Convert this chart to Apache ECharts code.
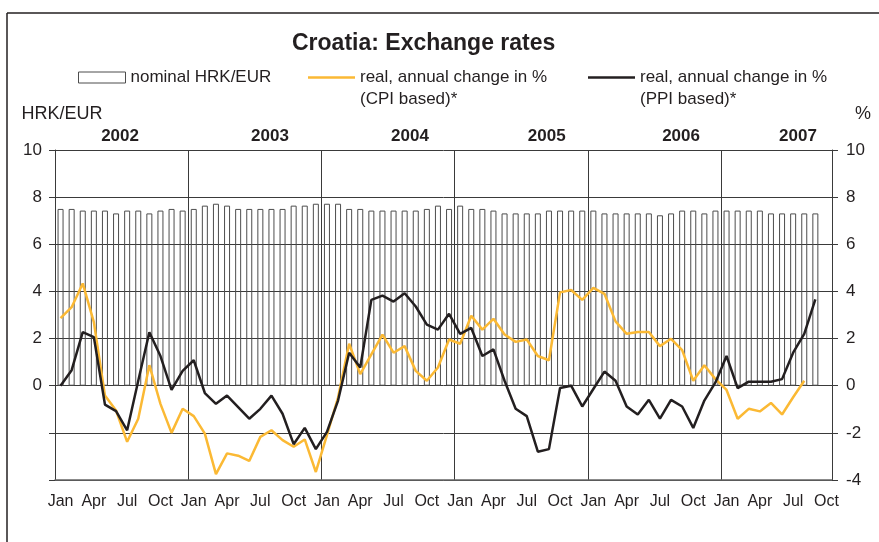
<!DOCTYPE html>
<html>
<head>
<meta charset="utf-8">
<script src="https://cdn.jsdelivr.net/npm/echarts@6/dist/echarts.min.js"></script>
<style>
html,body{margin:0;padding:0;background:#fff;}
#chart{width:879px;height:542px;}
</style>
</head>
<body>
<div id="chart"></div>
<script>
// ---- data ----
const monthNames = ['Jan','Feb','Mar','Apr','May','Jun','Jul','Aug','Sep','Oct','Nov','Dec'];
const years = ['2002','2003','2004','2005','2006','2007'];
// Jan 2002 .. Oct 2007 (70 months)
const categories = [];
for (let y = 0; y < 6; y++) for (let m = 0; m < 12; m++) if (!(y === 5 && m > 9)) categories.push(monthNames[m]);

const nominalHRK = [
  7.50,7.50,7.43,7.43,7.43,7.31,7.43,7.43,7.31,7.43,7.50,7.43,
  7.50,7.64,7.72,7.64,7.50,7.50,7.50,7.50,7.50,7.64,7.64,7.72,
  7.72,7.72,7.50,7.50,7.43,7.43,7.43,7.43,7.43,7.50,7.64,7.50,
  7.64,7.50,7.50,7.43,7.31,7.31,7.31,7.31,7.43,7.43,7.43,7.43,
  7.43,7.31,7.31,7.31,7.31,7.31,7.23,7.31,7.43,7.43,7.31,7.43,
  7.43,7.43,7.43,7.43,7.31,7.31,7.31,7.31,7.31
];
const cpiReal = [
  2.87,3.33,4.34,2.70,-0.42,-1.05,-2.38,-1.40,0.87,-0.77,-2.00,-0.98,
  -1.29,-2.03,-3.75,-2.87,-2.97,-3.19,-2.17,-1.89,-2.31,-2.59,-2.28,-3.66,
  -2.10,-0.50,1.78,0.49,1.33,2.17,1.40,1.68,0.63,0.21,0.77,1.96,
  1.78,2.97,2.38,2.84,2.17,1.86,1.96,1.26,1.08,3.96,4.06,3.64,
  4.15,3.90,2.73,2.20,2.28,2.28,1.68,1.99,1.51,0.21,0.87,0.28,
  -0.18,-1.40,-0.98,-1.09,-0.73,-1.22,-0.49,0.21
];
const ppiReal = [
  0.00,0.66,2.27,2.06,-0.80,-1.08,-1.89,0.21,2.27,1.26,-0.18,0.63,
  1.08,-0.31,-0.77,-0.42,-0.91,-1.40,-0.98,-0.42,-1.19,-2.48,-1.79,-2.69,
  -1.96,-0.63,1.40,0.77,3.64,3.82,3.57,3.92,3.36,2.59,2.38,3.05,
  2.20,2.45,1.26,1.54,0.21,-0.98,-1.29,-2.80,-2.69,-0.10,0.00,-0.88,
  -0.14,0.60,0.21,-0.88,-1.22,-0.60,-1.40,-0.60,-0.88,-1.79,-0.63,0.14,
  1.26,-0.10,0.17,0.17,0.17,0.28,1.40,2.20,3.66
];
const nameNominal = 'nominal HRK/EUR';
const nameCPI = 'real, annual change in %\n(CPI based)*';
const namePPI = 'real, annual change in %\n(PPI based)*';

// year label anchor positions along the month scale
const yearPos = [5.86, 19.37, 31.98, 44.3, 56.4, 66.94];

const FONT = 'Liberation Sans, Arial, Helvetica, sans-serif';
const TXT = '#231f20';
const GRID = '#3a3a3a';
const CPI_COLOR = '#fbb934';
const PPI_COLOR = '#231f20';

// prepend an empty line so the first text line sits level with the legend icon
const twoLineFormatter = function (name) { return '\n' + name; };

const chart = echarts.init(document.getElementById('chart'));
chart.setOption({
  animation: false,
  backgroundColor: '#fff',
  textStyle: { fontFamily: FONT, color: TXT },
  title: {
    text: 'Croatia: Exchange rates',
    left: 292, top: 32, padding: 0,
    textStyle: { fontFamily: FONT, fontSize: 23, fontWeight: 'bold', color: TXT }
  },
  graphic: [
    { type: 'line', shape: { x1: 7, y1: 13, x2: 879, y2: 13 }, style: { stroke: TXT, lineWidth: 1.5 } },
    { type: 'line', shape: { x1: 7, y1: 13, x2: 7, y2: 542 }, style: { stroke: TXT, lineWidth: 1.5 } }
  ],
  legend: [
    {
      left: 78, top: 66.5, padding: 0, itemWidth: 47, itemHeight: 11,
      data: [{ name: nameNominal, icon: 'rect', itemStyle: { color: '#fff', borderColor: '#4d4d4d', borderWidth: 1 } }],
      textStyle: { fontFamily: FONT, fontSize: 17, color: TXT, lineHeight: 22 }
    },
    {
      left: 308, top: 44.5, padding: 0, itemWidth: 47, itemHeight: 2.5,
      data: [{ name: nameCPI, icon: 'rect', itemStyle: { color: CPI_COLOR, borderWidth: 0 } }],
      formatter: twoLineFormatter,
      textStyle: { fontFamily: FONT, fontSize: 17, color: TXT, lineHeight: 22 }
    },
    {
      left: 588, top: 44.5, padding: 0, itemWidth: 47, itemHeight: 2.5,
      data: [{ name: namePPI, icon: 'rect', itemStyle: { color: PPI_COLOR, borderWidth: 0 } }],
      formatter: twoLineFormatter,
      textStyle: { fontFamily: FONT, fontSize: 17, color: TXT, lineHeight: 22 }
    }
  ],
  grid: { left: 55, right: 47, top: 150, bottom: 62, containLabel: false },
  xAxis: [
    {
      type: 'category', data: categories, boundaryGap: true,
      axisLine: { show: true, onZero: false, lineStyle: { color: '#666', width: 1.5 } },
      axisTick: { show: false },
      axisLabel: { interval: 2, margin: 14, fontSize: 16, color: TXT, fontFamily: FONT },
      splitLine: {
        show: true,
        interval: function (idx) { return idx % 12 === 0; },
        lineStyle: { color: GRID, width: 1 }
      }
    },
    {
      type: 'value', position: 'top', min: 0, max: 70,
      axisLine: { show: false }, axisTick: { show: false }, splitLine: { show: false },
      axisLabel: {
        customValues: yearPos,
        margin: 5, fontSize: 17, fontWeight: 'bold', color: TXT, fontFamily: FONT,
        formatter: function (v) {
          let best = 0;
          for (let i = 0; i < yearPos.length; i++) if (Math.abs(yearPos[i] - v) < Math.abs(yearPos[best] - v)) best = i;
          return years[best];
        }
      }
    }
  ],
  yAxis: [
    {
      type: 'value', min: -4, max: 10, interval: 2, position: 'left',
      name: 'HRK/EUR', nameLocation: 'end', nameGap: 27,
      nameTextStyle: { fontFamily: FONT, fontSize: 18, color: TXT, align: 'center', verticalAlign: 'bottom', padding: [0, 0, 0, 14] },
      axisLine: { show: true, lineStyle: { color: GRID, width: 1 } },
      axisTick: { show: true, inside: false, length: 6, lineStyle: { color: GRID } },
      axisLabel: {
        margin: 13, fontSize: 17, color: TXT, fontFamily: FONT,
        formatter: function (v) { return v < 0 ? '' : String(v); }
      },
      splitLine: { show: true, lineStyle: { color: GRID, width: 1 } }
    },
    {
      type: 'value', min: -4, max: 10, interval: 2, position: 'right',
      name: '%', nameLocation: 'end', nameGap: 27,
      nameTextStyle: { fontFamily: FONT, fontSize: 18, color: TXT, align: 'left', verticalAlign: 'bottom', padding: [0, 0, 0, 23] },
      axisLine: { show: true, lineStyle: { color: GRID, width: 1 } },
      axisTick: { show: true, inside: false, length: 6, lineStyle: { color: GRID } },
      axisLabel: { margin: 14, fontSize: 17, color: TXT, fontFamily: FONT },
      splitLine: { show: false }
    }
  ],
  series: [
    {
      name: nameNominal, type: 'bar', xAxisIndex: 0, yAxisIndex: 0,
      data: nominalHRK, barWidth: 6,
      itemStyle: { color: 'rgba(255,255,255,0)', borderColor: '#4d4d4d', borderWidth: 1 },
      emphasis: { disabled: true }
    },
    {
      name: nameCPI, type: 'line', xAxisIndex: 0, yAxisIndex: 1,
      data: cpiReal, symbol: 'none', smooth: false,
      lineStyle: { color: CPI_COLOR, width: 2.5 }, itemStyle: { color: CPI_COLOR }
    },
    {
      name: namePPI, type: 'line', xAxisIndex: 0, yAxisIndex: 1,
      data: ppiReal, symbol: 'none', smooth: false,
      lineStyle: { color: PPI_COLOR, width: 2.5 }, itemStyle: { color: PPI_COLOR }
    }
  ]
});
</script>
</body>
</html>
